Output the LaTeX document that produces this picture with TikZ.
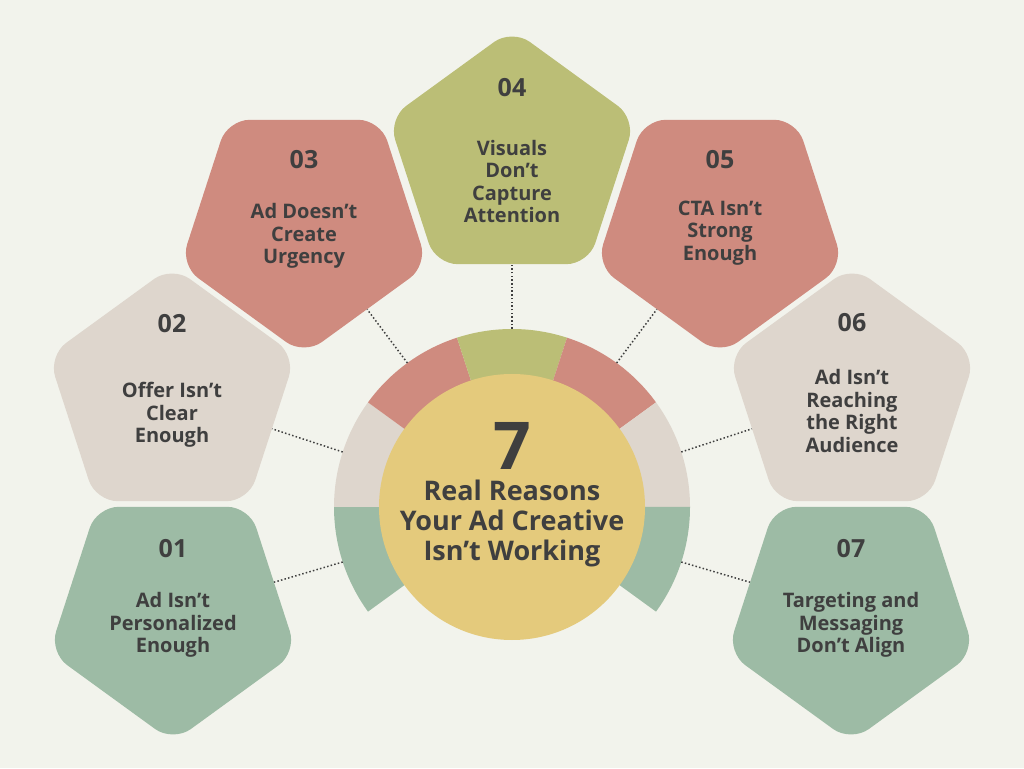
\documentclass[tikz,border=0pt]{standalone}
\usepackage{fontspec}
\setmainfont{Open Sans}
\usetikzlibrary{shapes.geometric,calc}
\definecolor{bgc}{HTML}{F2F3EC}
\definecolor{greenc}{HTML}{9DBBA5}
\definecolor{beigec}{HTML}{DED6CD}
\definecolor{redc}{HTML}{CF8B7F}
\definecolor{olivec}{HTML}{BBBE76}
\definecolor{yellowc}{HTML}{E4CA7C}
\definecolor{txtc}{HTML}{3F3F3F}
\begin{document}
\begin{tikzpicture}[x=1pt,y=1pt,
  pent/.style={regular polygon, regular polygon sides=5, minimum size=260pt, inner sep=0pt, rounded corners=22pt},
  pdown/.style={pent, shape border rotate=180},
  numtxt/.style={text=txtc, inner sep=0pt, font=\bfseries\fontsize{25}{30}\selectfont},
  bodytxt/.style={text=txtc, align=center, inner sep=0pt, font=\bfseries\fontsize{20}{22.5}\selectfont},
  link/.style={draw=txtc, line width=1.5pt, dash pattern=on 1.5pt off 2.2pt},
]
\fill[bgc] (0,0) rectangle (1024,768);
\useasboundingbox (0,0) rectangle (1024,768);

% pentagons
\node[pdown, fill=greenc]  (p1) at (173,156) {};
\node[pent,  fill=beigec]  (p2) at (172,372) {};
\node[pdown, fill=redc]    (p3) at (304,543) {};
\node[pent,  fill=olivec]  (p4) at (512,609) {};
\node[pdown, fill=redc]    (p5) at (720,543) {};
\node[pent,  fill=beigec]  (p6) at (852,372) {};
\node[pdown, fill=greenc]  (p7) at (851,156) {};

% ring
\coordinate (o) at (512,261);
\foreach \a/\b/\col in {180/216/greenc, 144/180/beigec, 108/144/redc, 72/108/olivec, 36/72/redc, 0/36/beigec, -36/0/greenc}
  \fill[\col] (o) -- ++(\a:178) arc[start angle=\a, end angle=\b, radius=178] -- cycle;

% link anchors on the ring
\foreach \i/\a in {1/198, 2/162, 3/126, 4/90, 5/54, 6/18, 7/-18}
  \coordinate (r\i) at ($(o)+(\a:178)$);
\foreach \i in {1,...,7}
  \draw[link] (r\i) -- (p\i);

% centre
\node[circle, fill=yellowc, minimum size=266pt, inner sep=0pt] (c) at (o) {};
\node[text=txtc, inner sep=0pt, font=\bfseries\fontsize{66}{66}\selectfont] (seven) at (512,322) {7};
\node[text=txtc, align=center, inner sep=0pt, font=\bfseries\fontsize{27}{30}\selectfont] (title) at (512,245) {Real Reasons\\Your Ad Creative\\Isn’t Working};

% texts
\node[numtxt] (n1) at (173,219) {01};
\node[bodytxt] (t1) at (173,143) {Ad Isn’t\\Personalized\\Enough};
\node[numtxt] (n2) at (172,444) {02};
\node[bodytxt] (t2) at (172,353) {Offer Isn’t\\Clear\\Enough};
\node[numtxt] (n3) at (304,608) {03};
\node[bodytxt] (t3) at (304,532) {Ad Doesn’t\\Create\\Urgency};
\node[numtxt] (n4) at (512,680) {04};
\node[bodytxt] (t4) at (512,586.5) {Visuals\\Don’t\\Capture\\Attention};
\node[numtxt] (n5) at (720,608) {05};
\node[bodytxt] (t5) at (720,535) {CTA Isn’t\\Strong\\Enough};
\node[numtxt] (n6) at (852,445) {06};
\node[bodytxt] (t6) at (852,357) {Ad Isn’t\\Reaching\\the Right\\Audience};
\node[numtxt] (n7) at (851,219) {07};
\node[bodytxt] (t7) at (851,143) {Targeting and\\Messaging\\Don’t Align};
\end{tikzpicture}
\end{document}
